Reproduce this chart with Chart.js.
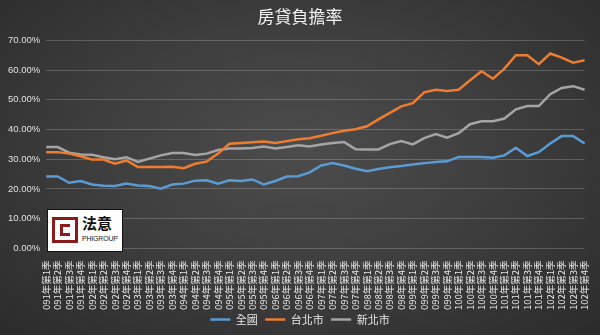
<!DOCTYPE html>
<html>
<head>
<meta charset="utf-8">
<script src="https://cdn.jsdelivr.net/npm/chart.js@4.4.1/dist/chart.umd.min.js"></script>
<style>
  html, body { margin: 0; padding: 0; }
  body {
    width: 600px; height: 335px; overflow: hidden; position: relative;
    background: radial-gradient(ellipse at 50% 45%, #4c4c4c 0%, #3f3f3f 45%, #2b2b2b 100%);
    font-family: "Noto Sans CJK TC", "Noto Sans", sans-serif;
  }
  #wrap { position: absolute; left: 0; top: 0; width: 600px; height: 335px; }
  #logo {
    position: absolute; left: 47px; top: 209px; width: 76px; height: 43px;
    background: #fff; border: 1px solid #111; box-sizing: border-box;
  }
  #logo .mark {
    position: absolute; left: 4px; top: 7px; width: 26px; height: 26px;
    border: 3px solid #8b1a1a; box-sizing: border-box;
  }
  #logo .mark::after {
    content: ''; position: absolute; left: 5px; top: 4px; width: 10px; height: 12px;
    border: 3px solid #8b1a1a; border-right: none; box-sizing: border-box;
  }
  #logo .name {
    position: absolute; left: 34px; top: 4px; font-size: 15px; font-weight: bold;
    color: #111; line-height: 18px;
  }
  #logo .sub {
    position: absolute; left: 34px; top: 25px; font-size: 7px; color: #222;
    font-family: "Liberation Sans", sans-serif; letter-spacing: -0.2px;
  }
</style>
</head>
<body>
<div id="wrap"><canvas id="chart" width="600" height="335"></canvas></div>
<div id="logo"><div class="mark"></div><div class="name">法意</div><div class="sub">PHIGROUP</div></div>
<script>
const years = ['091', '092', '093', '094', '095', '096', '097', '098', '099', '100', '101', '102'];
const quarters = ['1', '2', '3', '4'];
const categories = [];
years.forEach(y => quarters.forEach(q => categories.push(y + '年第' + q + '季')));

const national = [24.2, 24.2, 22.1, 22.7, 21.5, 21.1, 21.0, 21.8, 21.2, 21.0, 20.1, 21.5,
  21.8, 22.8, 22.9, 21.8, 22.9, 22.7, 23.2, 21.5, 22.7, 24.2, 24.3, 25.6,
  27.9, 28.7, 27.9, 26.8, 26.0, 26.7, 27.3, 27.7, 28.2, 28.7, 29.1, 29.3,
  30.8, 30.8, 30.8, 30.5, 31.3, 33.9, 31.1, 32.4, 35.3, 37.8, 37.8, 35.3];
const taipei = [32.4, 32.4, 31.9, 31.0, 29.9, 29.9, 28.5, 29.6, 27.4, 27.4, 27.4, 27.5,
  27.0, 28.5, 29.2, 31.9, 35.2, 35.5, 35.7, 36.0, 35.5, 36.1, 36.7, 37.1,
  37.9, 38.8, 39.6, 40.1, 41.1, 43.4, 45.6, 47.8, 48.9, 52.5, 53.4, 53.0,
  53.4, 56.6, 59.6, 57.1, 60.5, 65.0, 65.0, 62.0, 65.6, 64.2, 62.5, 63.3];
const newTaipei = [34.1, 34.1, 32.2, 31.6, 31.5, 30.7, 30.0, 30.7, 29.1, 30.2, 31.3, 32.1,
  32.1, 31.4, 31.9, 33.1, 33.6, 33.6, 33.8, 34.3, 33.6, 34.1, 34.7, 34.3,
  35.0, 35.5, 35.8, 33.4, 33.3, 33.3, 35.1, 36.1, 35.0, 37.1, 38.5, 37.3,
  38.8, 41.8, 42.8, 42.8, 43.7, 46.8, 47.9, 47.9, 51.9, 54.0, 54.6, 53.4];
const seriesNames = ['全國', '台北市', '新北市'];
const yTicks = [0, 10, 20, 30, 40, 50, 60, 70];

const colors = ['#5b9bd5', '#ed7d31', '#a5a5a5'];
const makeSet = (label, data, color) => ({
  label, data,
  borderColor: color, backgroundColor: color,
  borderWidth: 2.5, pointRadius: 0, tension: 0, fill: false
});

new Chart(document.getElementById('chart'), {
  type: 'line',
  data: {
    labels: categories,
    datasets: [
      makeSet(seriesNames[0], national, colors[0]),
      makeSet(seriesNames[1], taipei, colors[1]),
      makeSet(seriesNames[2], newTaipei, colors[2])
    ]
  },
  options: {
    responsive: false,
    animation: false,
    layout: { padding: { left: 2, right: 2, top: 0, bottom: 0 } },
    plugins: {
      title: {
        display: true, text: '房貸負擔率', color: '#f2f2f2',
        font: { size: 17, family: '"Noto Sans CJK TC", sans-serif', weight: 'normal' },
        padding: { top: 6, bottom: 14 }
      },
      legend: {
        position: 'bottom',
        labels: {
          color: '#e6e6e6',
          font: { size: 11, family: '"Noto Sans CJK TC", sans-serif' },
          usePointStyle: true, pointStyle: 'line', pointStyleWidth: 20,
          boxHeight: 8, padding: 0,
          // no horizontal gap option when padding is 0, so pad the text a bit
          generateLabels: chart => Chart.defaults.plugins.legend.labels.generateLabels(chart)
            .map((l, i, arr) => ({ ...l, text: i < arr.length - 1 ? l.text + '   ' : l.text }))
        }
      },
      tooltip: { enabled: false }
    },
    scales: {
      x: {
        grid: { display: false },
        border: { display: false },
        ticks: {
          color: '#e6e6e6', autoSkip: false, maxRotation: 90, minRotation: 90,
          font: { size: 9.5, family: '"Noto Sans CJK TC", sans-serif' }, padding: 4
        }
      },
      y: {
        min: 0, max: 70,
        afterBuildTicks: axis => { axis.ticks = yTicks.map(v => ({ value: v })); },
        grid: { color: 'rgba(255,255,255,0.2)', lineWidth: 1, drawTicks: false },
        border: { display: false },
        ticks: {
          color: '#e0e0e0', padding: 6,
          font: { size: 9.5, family: '"Liberation Sans", sans-serif' },
          callback: v => v.toFixed(2) + '%'
        }
      }
    }
  }
});
</script>
</body>
</html>
